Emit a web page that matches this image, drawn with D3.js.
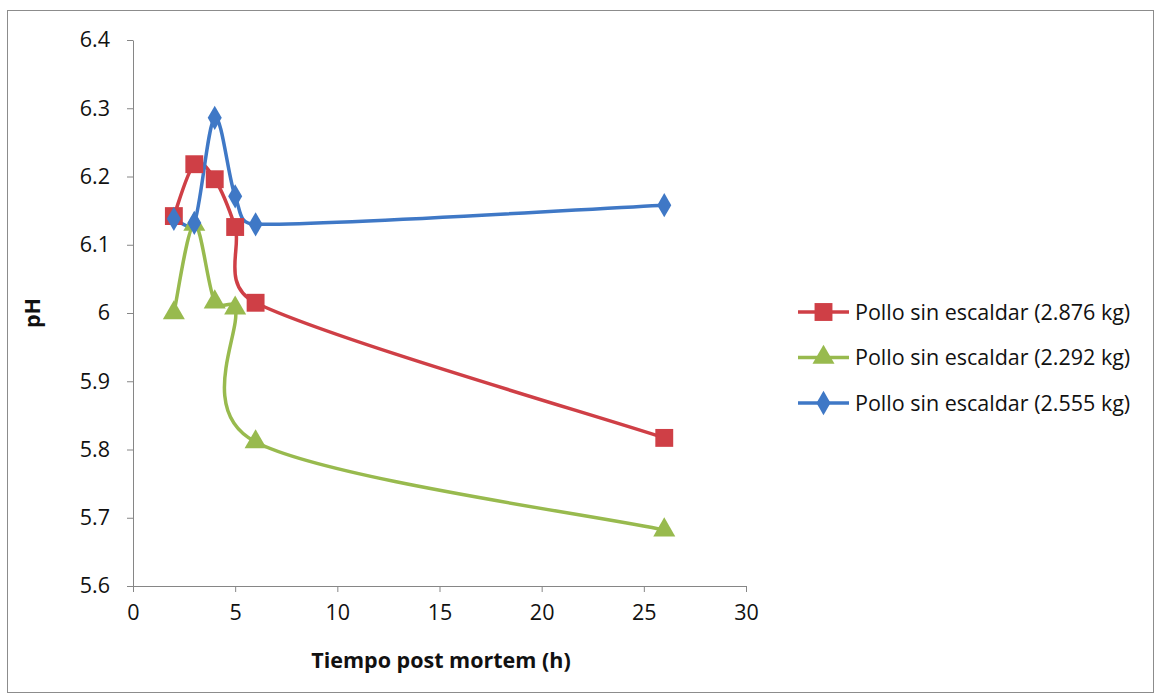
<!DOCTYPE html>
<html>
<head>
<meta charset="utf-8">
<script src="https://cdn.jsdelivr.net/npm/d3@7"></script>
<style>
  html, body { margin: 0; padding: 0; background: #fff; }
  svg { display: block; }
  text { font-family: "Open Sans", Lato, "Liberation Sans", sans-serif; fill: #111; }
</style>
</head>
<body>
<svg id="chart" width="1160" height="698"></svg>
<script>
// Hours after slaughter at which pH was measured
const hours = [2, 3, 4, 5, 6, 26];

// pH readings per carcass
const series = [
  { name: "Pollo sin escaldar (2.876 kg)", values: [6.142, 6.218, 6.196, 6.126, 6.015, 5.817] },
  { name: "Pollo sin escaldar (2.292 kg)", values: [6.000, 6.130, 6.016, 6.007, 5.811, 5.682] },
  { name: "Pollo sin escaldar (2.555 kg)", values: [6.138, 6.132, 6.286, 6.171, 6.130, 6.158] }
];

const xTicks = [0, 5, 10, 15, 20, 25, 30];
const yTicks = [5.6, 5.7, 5.8, 5.9, 6.0, 6.1, 6.2, 6.3, 6.4];
const yTickLabels = ["5.6", "5.7", "5.8", "5.9", "6", "6.1", "6.2", "6.3", "6.4"];

const colors = ["#CF3F46", "#98BA4E", "#3F78C6"];
const markers = [d3.symbolSquare, d3.symbolTriangle, d3.symbolDiamond];
const markerSizes = [320, 210, 170];

// Smoothed line: cubic Béziers with Catmull-Rom tangents, each control arm
// kept within half of its segment so short segments do not loop.
function smoothCurve(context) {
  let pts;
  const clamp = (t, lim) => {
    const len = Math.hypot(t[0], t[1]);
    if (len <= lim || len === 0) return t;
    const s = lim / len;
    return [t[0] * s, t[1] * s];
  };
  return {
    areaStart() {}, areaEnd() {},
    lineStart() { pts = []; },
    point(px, py) { pts.push([+px, +py]); },
    lineEnd() {
      const n = pts.length;
      if (!n) return;
      context.moveTo(pts[0][0], pts[0][1]);
      const tan = pts.map((p, i) => {
        const a = pts[Math.max(0, i - 1)], b = pts[Math.min(n - 1, i + 1)];
        return [(b[0] - a[0]) / 6, (b[1] - a[1]) / 6];
      });
      for (let i = 0; i < n - 1; i++) {
        const p = pts[i], q = pts[i + 1];
        const lim = 0.5 * Math.hypot(q[0] - p[0], q[1] - p[1]);
        const t0 = clamp(tan[i], lim), t1 = clamp(tan[i + 1], lim);
        context.bezierCurveTo(p[0] + t0[0], p[1] + t0[1], q[0] - t1[0], q[1] - t1[1], q[0], q[1]);
      }
    }
  };
}

const svg = d3.select("#chart");

// chart frame
svg.append("rect")
  .attr("x", 7.5).attr("y", 10.5)
  .attr("width", 1146).attr("height", 682)
  .attr("fill", "#fff").attr("stroke", "#8c8c8c").attr("stroke-width", 1);

const x = d3.scaleLinear().domain([0, 30]).range([133, 746]);
const y = d3.scaleLinear().domain([5.6, 6.4]).range([586, 40]);

const axisColor = "#868686";
const tickFont = "21.5px";

// y axis
const yAxis = svg.append("g")
  .attr("transform", `translate(${x(0)},0)`)
  .call(d3.axisLeft(y).tickValues(yTicks).tickSize(6).tickSizeOuter(0)
    .tickFormat((d, i) => yTickLabels[i]));
yAxis.select(".domain").attr("stroke", axisColor);
yAxis.selectAll(".tick line").attr("stroke", axisColor);
yAxis.selectAll(".tick text")
  .attr("x", -23)
  .style("font-size", tickFont)
  .style("font-family", "'Open Sans', Lato, sans-serif")
  .attr("fill", "#111");

// x axis
const xAxis = svg.append("g")
  .attr("transform", `translate(0,${y(5.6)})`)
  .call(d3.axisBottom(x).tickValues(xTicks).tickSize(6).tickSizeOuter(0));
xAxis.select(".domain").attr("stroke", axisColor);
xAxis.selectAll(".tick line").attr("stroke", axisColor);
xAxis.selectAll(".tick text")
  .attr("y", 19)
  .attr("dy", "0.71em")
  .style("font-size", tickFont)
  .style("font-family", "'Open Sans', Lato, sans-serif")
  .attr("fill", "#111");

// axis titles
svg.append("text")
  .attr("x", 441).attr("y", 668)
  .attr("text-anchor", "middle")
  .style("font-size", "21.5px").style("font-weight", "bold")
  .text("Tiempo post mortem (h)");

svg.append("text")
  .attr("transform", "translate(40,313) rotate(-90)")
  .attr("text-anchor", "middle")
  .style("font-size", "21.5px").style("font-weight", "bold")
  .text("pH");

// smoothed series lines
const line = d3.line()
  .x(d => x(d.h))
  .y(d => y(d.v))
  .curve(smoothCurve);

const plot = svg.append("g");
series.forEach((s, i) => {
  const pts = hours.map((h, j) => ({ h, v: s.values[j] }));
  plot.append("path")
    .datum(pts)
    .attr("d", line)
    .attr("fill", "none")
    .attr("stroke", colors[i])
    .attr("stroke-width", 3.5)
    .attr("stroke-linejoin", "round");
});

series.forEach((s, i) => {
  const pts = hours.map((h, j) => ({ h, v: s.values[j] }));
  plot.selectAll(null)
    .data(pts)
    .enter().append("path")
    .attr("transform", d => `translate(${x(d.h)},${y(d.v)})`)
    .attr("d", d3.symbol().type(markers[i]).size(markerSizes[i]))
    .attr("fill", colors[i]);
});

// legend
const legend = svg.append("g");
series.forEach((s, i) => {
  const ly = 312 + i * 45.5;
  const g = legend.append("g").attr("transform", `translate(0,${ly})`);
  g.append("line")
    .attr("x1", 798).attr("x2", 849).attr("y1", 0).attr("y2", 0)
    .attr("stroke", colors[i]).attr("stroke-width", 3.5);
  g.append("path")
    .attr("transform", "translate(823.5,0)")
    .attr("d", d3.symbol().type(markers[i]).size(markerSizes[i]))
    .attr("fill", colors[i]);
  g.append("text")
    .attr("x", 855).attr("y", 0).attr("dy", "0.35em")
    .style("font-size", "21.5px")
    .text(s.name);
});
</script>
</body>
</html>
